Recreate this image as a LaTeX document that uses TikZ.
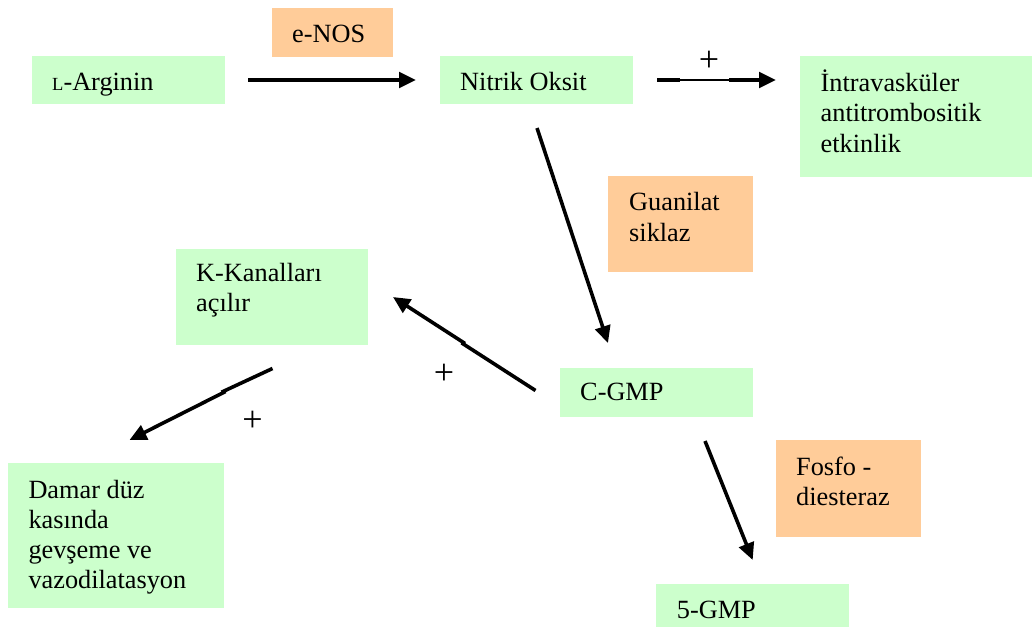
\documentclass[tikz,border=0pt]{standalone}
\usepackage{fontspec}
\setmainfont{Liberation Serif}
\usetikzlibrary{arrows.meta}
\definecolor{boxgreen}{RGB}{204,255,204}
\definecolor{boxorange}{RGB}{255,204,153}
\newcommand\mlines[1]{\begin{tabular}[t]{@{}l@{}}#1\end{tabular}}
\begin{document}
\begin{tikzpicture}[x=1pt,y=-1pt,
  greenbox/.style={fill=boxgreen,draw=none,inner sep=0pt,anchor=north west},
  orangebox/.style={fill=boxorange,draw=none,inner sep=0pt,anchor=north west},
  txt/.style={anchor=base west,inner sep=0pt,font=\fontsize{26.3}{30.3}\selectfont},
  plus/.style={inner sep=0pt,font=\fontsize{36}{38}\selectfont},
  link/.style={line width=3.6pt,-{Triangle[length=17pt,width=15.5pt]}},
  bar/.style={line width=3.6pt},
  thinbar/.style={line width=1.4pt}]
\useasboundingbox (0,0) rectangle (1032,627);

% boxes
\node[greenbox,minimum width=193pt,minimum height=48pt] (arg) at (32,56) {};
\node[orangebox,minimum width=121pt,minimum height=49pt] (enos) at (272,8) {};
\node[greenbox,minimum width=193pt,minimum height=48pt] (no) at (440,56) {};
\node[greenbox,minimum width=232pt,minimum height=121pt] (intra) at (800,56) {};
\node[orangebox,minimum width=145pt,minimum height=96pt] (gs) at (608,176) {};
\node[greenbox,minimum width=192pt,minimum height=96pt] (kk) at (176,249) {};
\node[greenbox,minimum width=193pt,minimum height=49pt] (cgmp) at (560,368) {};
\node[orangebox,minimum width=145pt,minimum height=97pt] (fd) at (776,440) {};
\node[greenbox,minimum width=216pt,minimum height=145pt] (damar) at (8,463) {};
\node[greenbox,minimum width=193pt,minimum height=43pt] (gmpfive) at (656,584) {};

% texts
\node[txt] (targ) at (52,90) {{\fontsize{18.5}{20}\selectfont L}-Arginin};
\node[txt] (tenos) at (292,42.7) {e-NOS};
\node[txt] (tno) at (460,90.5) {Nitrik Oksit};
\node[txt] (tintra) at (820.5,91.5) {\mlines{İntravasküler\\antitrombositik\\etkinlik}};
\node[txt] (tgs) at (629,210.7) {\mlines{Guanilat\\siklaz}};
\node[txt] (tkk) at (196,281.5) {\mlines{K-Kanalları\\açılır}};
\node[txt] (tcgmp) at (580,400.5) {C-GMP};
\node[txt] (tfd) at (796,475) {\mlines{Fosfo -\\diesteraz}};
\node[txt] (tdamar) at (28.3,498) {\mlines{Damar düz\\kasında\\gevşeme ve\\vazodilatasyon}};
\node[txt] (tgmp) at (676.7,618.3) {5-GMP};

% plus signs
\node[plus] (p1) at (709,61) {+};
\node[plus] (p2) at (444,374.3) {+};
\node[plus] (p3) at (252.5,421.7) {+};

% connector end points
\coordinate (argout) at (248,80);
\coordinate (noin) at (416,80);
\coordinate (noout) at (657,80);
\coordinate (bA) at (680,80);
\coordinate (bB) at (729,80);
\coordinate (intrain) at (776,80);
\coordinate (nodown) at (537,128);
\coordinate (cgmpin) at (608,343);
\coordinate (cgmpout) at (535.5,390.5);
\coordinate (k1) at (461.5,342.8);
\coordinate (k2) at (465,343.5);
\coordinate (kkin) at (393,297);
\coordinate (kkout) at (272.5,368.5);
\coordinate (d1) at (221.5,392.2);
\coordinate (d2) at (225.5,391.5);
\coordinate (damarin) at (129.5,440);
\coordinate (cgmpdown) at (705,441);
\coordinate (gmpin) at (752.7,560);

% connectors
\draw[link] (argout) -- (noin);
\draw[bar] (noout) -- (bA);
\draw[thinbar] (bA) -- (bB);
\draw[link] (bB) -- (intrain);
\draw[link] (nodown) -- (cgmpin);
\draw[bar] (cgmpout) -- (k1);
\draw[link] (k2) -- (kkin);
\draw[bar] (kkout) -- (d1);
\draw[link] (d2) -- (damarin);
\draw[link] (cgmpdown) -- (gmpin);
\end{tikzpicture}
\end{document}
